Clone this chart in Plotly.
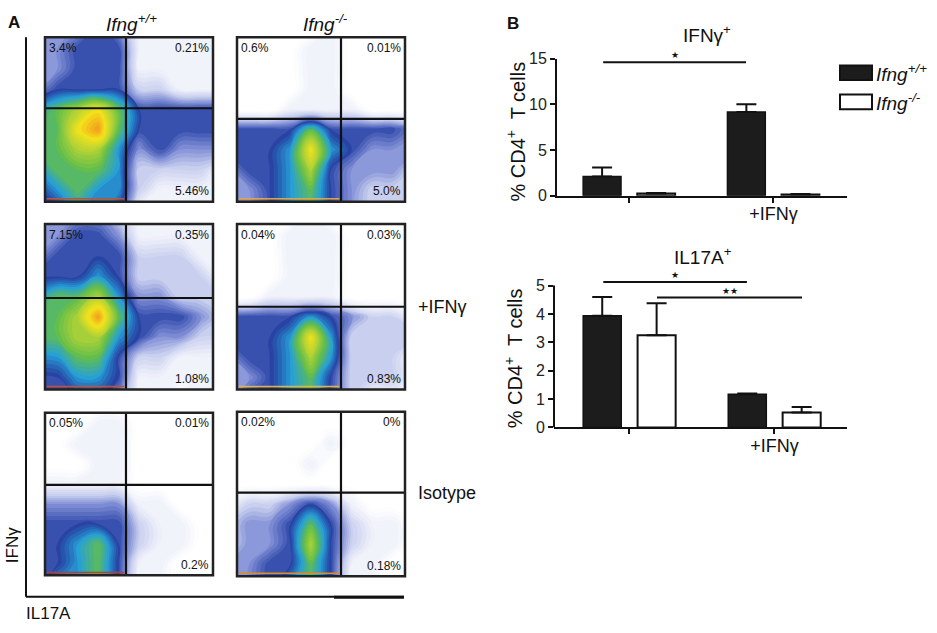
import plotly.graph_objects as go

W, H = 937, 633
FONT = "Liberation Sans, Arial, sans-serif"

# ---- panel A: flow plots, density level 0-10 on a 10x10 grid (rows top -> bottom)
dens_wt = [
    [3, 3, 3, 4, 3, 1, 1, 1, 1, 0],
    [3, 3, 4, 4, 4, 1, 1, 1, 1, 1],
    [3, 3, 4, 4, 4, 1, 1, 1, 1, 1],
    [3, 4, 4, 4, 4, 2, 2, 1, 1, 1],
    [5, 6, 7, 8, 6, 4, 4, 4, 4, 4],
    [6, 6, 8, 9, 6, 4, 4, 4, 4, 4],
    [6, 6, 7, 7, 5, 3, 4, 3, 3, 3],
    [5, 6, 6, 6, 5, 2, 2, 2, 2, 1],
    [4, 5, 6, 5, 5, 2, 1, 1, 1, 1],
    [4, 4, 5, 5, 4, 1, 1, 1, 1, 1],
]
dens_ko = [
    [0, 0, 0, 0, 0, 1, 0, 0, 0, 0],
    [0, 0, 0, 0, 1, 1, 0, 0, 0, 0],
    [0, 0, 0, 0, 1, 1, 0, 0, 0, 0],
    [0, 0, 0, 0, 1, 1, 0, 0, 0, 0],
    [0, 0, 0, 1, 1, 1, 1, 0, 0, 0],
    [4, 4, 4, 4, 6, 4, 4, 4, 4, 3],
    [4, 4, 4, 5, 8, 5, 4, 3, 3, 3],
    [3, 4, 4, 5, 7, 4, 3, 3, 3, 2],
    [3, 3, 4, 5, 6, 4, 3, 2, 2, 2],
    [3, 3, 4, 5, 6, 4, 3, 2, 2, 1],
]
dens_wt_ifn = [
    [2, 3, 3, 3, 2, 1, 1, 1, 1, 0],
    [3, 3, 4, 4, 3, 1, 1, 1, 1, 1],
    [3, 4, 4, 4, 4, 2, 2, 2, 1, 1],
    [4, 4, 4, 5, 4, 2, 2, 2, 2, 1],
    [5, 6, 6, 7, 5, 3, 3, 2, 2, 2],
    [6, 6, 7, 9, 6, 4, 4, 4, 3, 2],
    [6, 6, 7, 7, 5, 4, 3, 3, 2, 2],
    [5, 5, 6, 6, 4, 2, 2, 1, 1, 1],
    [4, 4, 5, 5, 4, 1, 1, 1, 1, 1],
    [4, 4, 4, 4, 3, 1, 1, 0, 1, 0],
]
dens_ko_ifn = [
    [0, 0, 0, 0, 1, 0, 0, 0, 0, 0],
    [0, 0, 0, 1, 1, 1, 0, 0, 0, 0],
    [0, 0, 0, 1, 1, 1, 0, 0, 0, 0],
    [0, 0, 0, 1, 1, 1, 0, 0, 0, 0],
    [0, 0, 1, 1, 1, 1, 0, 0, 0, 0],
    [4, 4, 4, 4, 5, 4, 3, 2, 2, 1],
    [4, 4, 4, 5, 8, 5, 2, 2, 2, 2],
    [3, 4, 4, 5, 7, 5, 2, 2, 2, 1],
    [3, 3, 4, 5, 6, 4, 2, 2, 2, 1],
    [3, 4, 4, 5, 6, 4, 2, 1, 1, 1],
]
dens_wt_iso = [
    [0, 0, 0, 0, 0, 0, 0, 0, 0, 0],
    [0, 0, 0, 1, 1, 0, 0, 0, 0, 0],
    [0, 0, 1, 1, 1, 0, 0, 0, 0, 0],
    [0, 0, 0, 1, 1, 0, 0, 0, 0, 0],
    [1, 1, 1, 1, 1, 0, 0, 0, 0, 0],
    [3, 3, 3, 3, 3, 1, 1, 0, 0, 0],
    [4, 4, 4, 4, 4, 2, 1, 1, 0, 0],
    [4, 4, 5, 6, 4, 2, 1, 1, 0, 0],
    [4, 4, 5, 6, 4, 1, 1, 0, 0, 0],
    [4, 5, 5, 6, 4, 1, 1, 0, 0, 0],
]
dens_ko_iso = [
    [0, 0, 0, 0, 0, 0, 0, 0, 0, 0],
    [0, 0, 0, 0, 0, 0, 0, 0, 0, 0],
    [0, 0, 0, 0, 0, 1, 0, 0, 0, 0],
    [0, 0, 0, 0, 1, 0, 0, 0, 0, 0],
    [0, 0, 0, 0, 0, 0, 0, 0, 0, 0],
    [1, 2, 2, 3, 4, 3, 1, 0, 0, 0],
    [2, 3, 3, 4, 6, 4, 2, 1, 1, 0],
    [2, 3, 3, 4, 7, 4, 2, 1, 1, 0],
    [3, 3, 4, 4, 6, 4, 1, 1, 0, 0],
    [3, 3, 4, 5, 6, 4, 1, 1, 0, 0],
]
panels = [dens_wt, dens_ko, dens_wt_ifn, dens_ko_ifn, dens_wt_iso, dens_ko_iso]
# grid runs a little past the visible box so contour smoothing does not eat the edges
grid = [-0.5 + 11 * k / 9 for k in range(10)]
gate_x = [4.82, 6.19, 4.82, 6.19, 4.82, 6.19]
gate_y = [5.68, 5.03, 5.53, 5.0, 5.57, 5.09]
# events piled up on the axis, drawn as a thin coloured strip
pileup_color = ["#c8502a", "#e9a13a", "#c8502a", "#e9b13a", "#b8402a", "#e08a2a"]
pct_ul = ["3.4%", "0.6%", "7.15%", "0.04%", "0.05%", "0.02%"]
pct_ur = ["0.21%", "0.01%", "0.35%", "0.03%", "0.01%", "0%"]
pct_lr = ["5.46%", "5.0%", "1.08%", "0.83%", "0.2%", "0.18%"]
col_titles = ["<i>Ifng<sup>+/+</sup></i>", "<i>Ifng<sup>-/-</sup></i>"]
row_titles = ["", "+IFNγ", "Isotype"]

# ---- panel B: bar charts
groups = ["ctrl", "+IFNγ"]
group_ticks = ["", "+IFNγ"]
genotypes = ["<i>Ifng<sup>+/+</sup></i>", "<i>Ifng<sup>-/-</sup></i>"]
ifng_wt = [2.1, 9.15]
ifng_wt_err = [1.0, 0.85]
ifng_ko = [0.25, 0.15]
ifng_ko_err = [0.05, 0.05]
il17_wt = [3.94, 1.17]
il17_wt_err = [0.66, 0.03]
il17_ko = [3.25, 0.53]
il17_ko_err = [1.13, 0.19]

flow_scale = [[0.0, "#ffffff"], [0.1, "#eceef9"], [0.2, "#c6cdee"], [0.3, "#7887d2"],
              [0.4, "#2742a4"], [0.5, "#27a0d6"], [0.6, "#62be4b"], [0.7, "#b3d235"],
              [0.8, "#f3e31b"], [0.9, "#f39a1d"], [1.0, "#e2231a"]]


def dx(a, b):
    return [a / W, b / W]


def dy(a, b):
    return [1 - b / H, 1 - a / H]


panel_box = [
    (45, 213, 30, 199), (237, 405, 30, 199),
    (45, 213, 222, 392), (237, 405, 222, 392),
    (45, 213, 416, 583), (237, 405, 415, 584),
]


def label(text, x, y, size, **kw):
    d = dict(text=text, xref="paper", yref="paper", x=x / W, y=1 - y / H,
             xanchor="center", yanchor="middle", showarrow=False,
             font=dict(family=FONT, size=size, color="#111"))
    d.update(kw)
    return d


fig = go.Figure()
layout = {}
shapes = []
ann = []

for i, z in enumerate(panels):
    n = i + 1
    xa = "x" if n == 1 else "x%d" % n
    ya = "y" if n == 1 else "y%d" % n
    fig.add_trace(go.Contour(z=z[::-1], x=grid, y=grid, zmin=0, zmax=10,
                             colorscale=flow_scale, showscale=False, hoverinfo="skip",
                             contours=dict(coloring="fill", start=0.2, end=10, size=0.2),
                             line=dict(width=0, smoothing=1.3), xaxis=xa, yaxis=ya))
    x0, x1, y0, y1 = panel_box[i]
    layout["xaxis" if n == 1 else "xaxis%d" % n] = dict(
        domain=dx(x0, x1), range=[0, 10], visible=False, anchor=ya)
    layout["yaxis" if n == 1 else "yaxis%d" % n] = dict(
        domain=dy(y0, y1), range=[0, 10], visible=False, anchor=xa)
    shapes.append(dict(type="line", xref=xa, yref=ya, x0=0.1, x1=gate_x[i] - 0.1,
                       y0=0.18, y1=0.18, line=dict(color=pileup_color[i], width=1.5)))
    shapes.append(dict(type="line", xref=xa, yref=ya + " domain", x0=gate_x[i], x1=gate_x[i],
                       y0=0, y1=1, line=dict(color="#111", width=2.2)))
    shapes.append(dict(type="line", xref=xa + " domain", yref=ya, x0=0, x1=1,
                       y0=gate_y[i], y1=gate_y[i], line=dict(color="#111", width=2.2)))
    shapes.append(dict(type="rect", xref=xa + " domain", yref=ya + " domain", x0=0, x1=1,
                       y0=0, y1=1, line=dict(color="#222", width=2.5)))
    f = dict(family=FONT, size=12, color="#111")
    ann.append(dict(text=pct_ul[i], xref=xa + " domain", yref=ya + " domain", x=0.01, y=0.99,
                    xanchor="left", yanchor="top", showarrow=False, font=f))
    ann.append(dict(text=pct_ur[i], xref=xa + " domain", yref=ya + " domain", x=0.99, y=0.99,
                    xanchor="right", yanchor="top", showarrow=False, font=f))
    ann.append(dict(text=pct_lr[i], xref=xa + " domain", yref=ya + " domain", x=0.99, y=0.01,
                    xanchor="right", yanchor="bottom", showarrow=False, font=f))

# column and row labels for panel A
for t, cx in zip(col_titles, [131, 325]):
    ann.append(label(t, cx, 15, 19))
for t, cy in zip(row_titles, [114, 307, 498]):
    if t:
        ann.append(label(t, 416, cy, 18, xanchor="left"))

# L-shaped axes of panel A
shapes.append(dict(type="line", xref="paper", yref="paper", x0=26 / W, x1=26 / W,
                   y0=1 - 30 / H, y1=1 - 605 / H, line=dict(color="#111", width=2)))
shapes.append(dict(type="line", xref="paper", yref="paper", x0=26 / W, x1=404 / W,
                   y0=1 - 605 / H, y1=1 - 605 / H, line=dict(color="#111", width=2)))
shapes.append(dict(type="line", xref="paper", yref="paper", x0=334 / W, x1=404 / W,
                   y0=1 - 605.5 / H, y1=1 - 605.5 / H, line=dict(color="#111", width=3)))
ann.append(label("IFNγ", 12, 552, 17, textangle=-90))
ann.append(label("IL17A", 24, 622, 17, xanchor="left"))
ann.append(label("<b>A</b>", 14, 15, 17))
ann.append(label("<b>B</b>", 513, 16, 17))

# ---- bar charts
bar_sets = [
    ("x7", "y7", ifng_wt, ifng_wt_err, ifng_ko, ifng_ko_err),
    ("x8", "y8", il17_wt, il17_wt_err, il17_ko, il17_ko_err),
]
for xa, ya, wt, wte, ko, koe in bar_sets:
    fig.add_trace(go.Bar(x=groups, y=wt, name=genotypes[0], xaxis=xa, yaxis=ya,
                         marker=dict(color="#1c1c1c", line=dict(color="#111", width=1.5)),
                         error_y=dict(type="data", array=wte, arrayminus=[0, 0], symmetric=False,
                                      color="#111", thickness=2, width=10),
                         showlegend=False, hoverinfo="skip"))
    fig.add_trace(go.Bar(x=groups, y=ko, name=genotypes[1], xaxis=xa, yaxis=ya,
                         marker=dict(color="white", line=dict(color="#111", width=2)),
                         error_y=dict(type="data", array=koe, arrayminus=[0, 0], symmetric=False,
                                      color="#111", thickness=2, width=10),
                         showlegend=False, hoverinfo="skip"))

tickfont = dict(family=FONT, size=16, color="#222")
bar_x = dict(type="category", tickvals=groups, ticktext=group_ticks, ticks="outside",
             ticklen=5, tickwidth=2, tickcolor="#111", showline=True, linewidth=2,
             linecolor="#111", showgrid=False, zeroline=False,
             tickfont=dict(family=FONT, size=18, color="#111"), ticklabelstandoff=-4)
bar_y = dict(ticks="outside", ticklen=5, tickwidth=2, tickcolor="#111", showgrid=False,
             zeroline=False, tickfont=tickfont)
layout["xaxis7"] = dict(bar_x, domain=dx(557, 847), range=[-0.5, 1.51], anchor="y7")
layout["yaxis7"] = dict(bar_y, domain=dy(52, 193), range=[0, 15], tickvals=[0, 5, 10, 15],
                        showline=True, linewidth=2, linecolor="#111", anchor="x7")
layout["xaxis8"] = dict(bar_x, domain=dx(554, 847), range=[-0.52, 1.5], anchor="y8")
layout["yaxis8"] = dict(bar_y, domain=dy(278, 431), range=[0, 5.25], tickvals=[0, 1, 2, 3, 4, 5],
                        showline=False, anchor="x8")
shapes.append(dict(type="line", xref="x8 domain", yref="y8", x0=0, x1=0, y0=0, y1=5,
                   line=dict(color="#111", width=2)))

# significance bars
sig = [("x7", "y7", -0.18, 0.81, 14.6, "★"),
       ("x8", "y8", -0.18, 0.81, 5.13, "★"),
       ("x8", "y8", 0.19, 1.19, 4.58, "★★")]
for xa, ya, a, b, yv, t in sig:
    shapes.append(dict(type="line", xref=xa, yref=ya, x0=a, x1=b, y0=yv, y1=yv,
                       line=dict(color="#111", width=2)))
    ann.append(dict(text=t, xref=xa, yref=ya, x=(a + b) / 2, y=yv, yanchor="bottom",
                    yshift=0, showarrow=False, font=dict(family=FONT, size=9, color="#111")))

# bar chart titles and y labels
ann.append(label("IFNγ<sup>+</sup>", 707, 27, 19))
ann.append(label("IL17A<sup>+</sup>", 703, 255, 19))
for cy, cx in [(127, 516), (360, 513)]:
    ann.append(label("% CD4<sup>+</sup>  T cells", cx, cy, 20, textangle=-90))

# legend drawn by hand (big swatches)
for (t, fill, top) in zip(genotypes, ["#1c1c1c", "white"], [59, 89]):
    shapes.append(dict(type="rect", xref="paper", yref="paper", x0=840 / W, x1=872 / W,
                       y0=1 - top / H, y1=1 - (top + 15) / H, fillcolor=fill,
                       line=dict(color="#111", width=2)))
    ann.append(label(t, 874, top + 8, 19, xanchor="left"))

fig.update_layout(
    width=W, height=H, margin=dict(l=0, r=0, t=0, b=0),
    paper_bgcolor="white", plot_bgcolor="white",
    barmode="group", bargap=0.25, bargroupgap=0.3,
    shapes=shapes, annotations=ann, **layout,
)
pin = ("var d = document.getElementById('{plot_id}');"
       "d.style.position = 'absolute'; d.style.left = '0px'; d.style.top = '0px';"
       "document.body.style.margin = '0px';")
fig.write_html("out.html", config={"displayModeBar": False}, post_script=pin)
